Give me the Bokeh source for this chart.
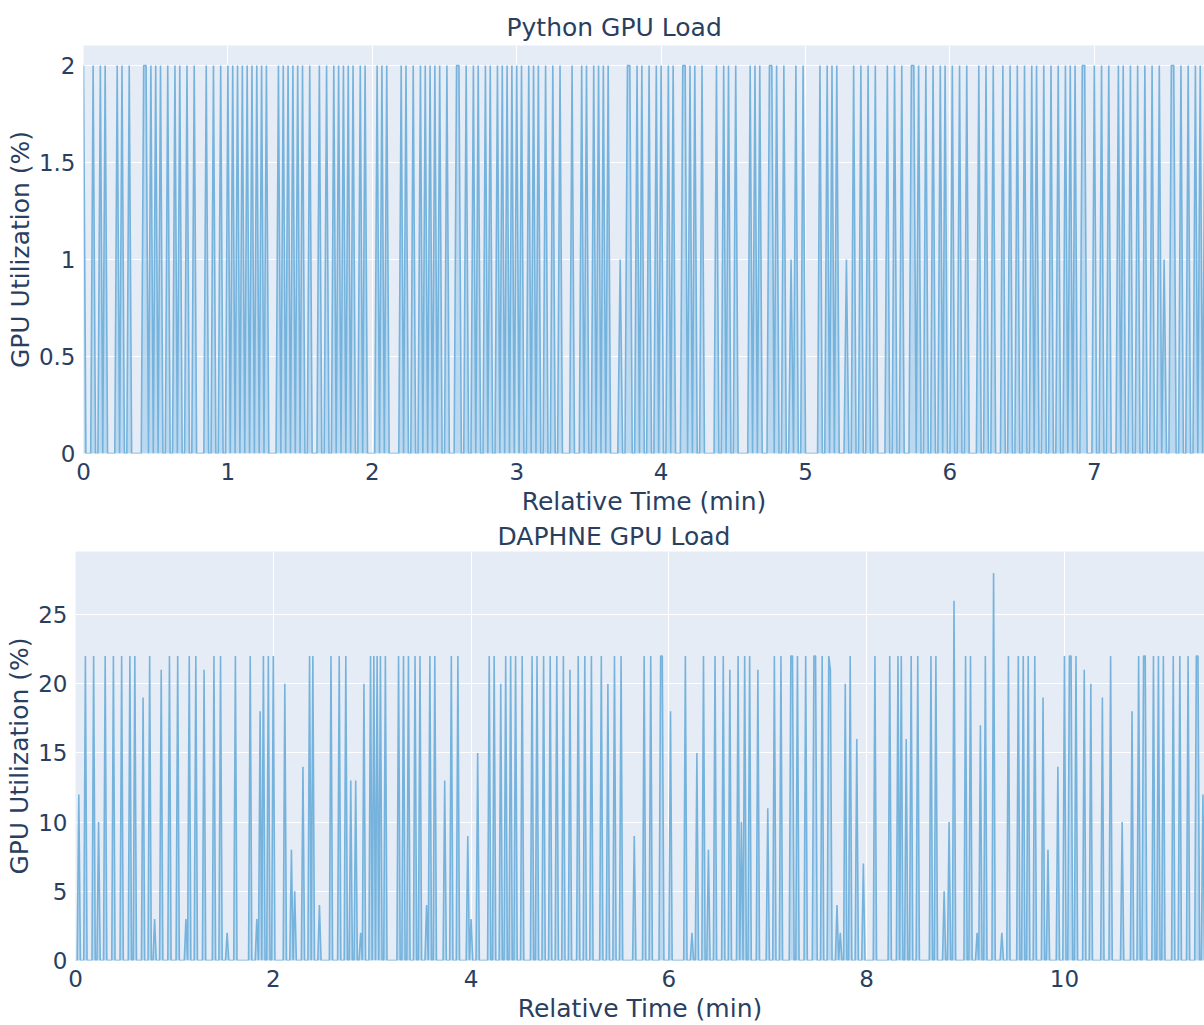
from bokeh.plotting import figure
from bokeh.layouts import column
from bokeh.models import Range1d, FixedTicker, CustomJSTickFormatter
from bokeh.embed import file_html
from bokeh.resources import INLINE

# ---------------- data ----------------
# Python GPU load: sampled once per second; listed seconds are the non-zero samples
python_title = "Python GPU Load"
python_duration_sec = 467
python_spike_sec = [0, 4, 7, 9, 14, 16, 19, 25, 26, 28, 30, 32, 35, 38, 40, 43, 46, 51, 54, 57,
                    60, 62, 64, 66, 68, 70, 72, 74, 76, 81, 83, 85, 87, 89, 91, 94, 98, 101, 104, 106,
                    108, 110, 112, 115, 117, 122, 124, 126, 132, 134, 137, 140, 142, 144, 146, 148, 151, 155, 156, 159,
                    162, 164, 167, 169, 172, 174, 176, 178, 180, 182, 185, 187, 189, 192, 195, 198, 203, 207, 209, 212,
                    214, 216, 218, 223, 226, 227, 230, 232, 235, 238, 240, 243, 245, 249, 250, 252, 254, 257, 263, 266,
                    268, 271, 277, 279, 281, 285, 286, 288, 291, 294, 296, 299, 306, 309, 311, 313, 317, 320, 323, 326,
                    329, 334, 337, 340, 344, 345, 347, 350, 353, 356, 358, 361, 364, 367, 372, 375, 378, 382, 385, 388,
                    391, 394, 396, 399, 402, 405, 408, 410, 412, 415, 416, 420, 423, 426, 430, 432, 435, 438, 441, 444,
                    447, 449, 452, 453, 456, 459, 462, 464, 466]
python_spike_val = [2, 2, 2, 2, 2, 2, 2, 2, 2, 2, 2, 2, 2, 2, 2, 2, 2, 2, 2, 2,
                    2, 2, 2, 2, 2, 2, 2, 2, 2, 2, 2, 2, 2, 2, 2, 2, 2, 2, 2, 2,
                    2, 2, 2, 2, 2, 2, 2, 2, 2, 2, 2, 2, 2, 2, 2, 2, 2, 2, 2, 2,
                    2, 2, 2, 2, 2, 2, 2, 2, 2, 2, 2, 2, 2, 2, 2, 2, 2, 2, 2, 2,
                    2, 2, 2, 1, 2, 2, 2, 2, 2, 2, 2, 2, 2, 2, 2, 2, 2, 2, 2, 2,
                    2, 2, 2, 2, 2, 2, 2, 2, 2, 1, 2, 2, 2, 2, 2, 2, 1, 2, 2, 2,
                    2, 2, 2, 2, 2, 2, 2, 2, 2, 2, 2, 2, 2, 2, 2, 2, 2, 2, 2, 2,
                    2, 2, 2, 2, 2, 2, 2, 2, 2, 2, 2, 2, 2, 2, 2, 2, 2, 2, 2, 2,
                    2, 1, 2, 2, 2, 2, 2, 2, 2]
python_yticks = [0, 0.5, 1, 1.5, 2]
python_xticks = [0, 1, 2, 3, 4, 5, 6, 7]

# DAPHNE GPU load: sampled once per second; listed seconds are the non-zero samples
daphne_title = "DAPHNE GPU Load"
daphne_duration_sec = 686
daphne_spike_sec = [2, 6, 11, 14, 18, 23, 28, 33, 36, 41, 45, 48, 52, 57, 62, 67, 69, 73, 78, 84,
                    88, 92, 97, 106, 110, 112, 114, 117, 120, 127, 131, 133, 138, 142, 144, 148, 155, 160, 164, 167,
                    170, 173, 175, 179, 181, 183, 185, 188, 196, 199, 202, 206, 209, 213, 215, 218, 224, 228, 232, 238,
                    240, 244, 251, 254, 258, 261, 264, 267, 271, 277, 280, 284, 288, 292, 296, 300, 305, 309, 313, 319,
                    323, 327, 331, 339, 345, 349, 355, 356, 361, 370, 374, 377, 381, 384, 388, 393, 397, 402, 404, 406,
                    409, 414, 420, 424, 428, 434, 435, 438, 443, 448, 449, 453, 457, 458, 462, 464, 467, 470, 474, 478,
                    485, 494, 499, 501, 504, 507, 511, 519, 522, 527, 530, 533, 540, 543, 547, 549, 552, 557, 562, 566,
                    572, 575, 578, 582, 587, 590, 596, 600, 603, 604, 607, 612, 616, 623, 628, 635, 641, 645, 648, 649,
                    654, 657, 660, 666, 670, 675, 680, 681, 684]
daphne_spike_val = [12, 22, 22, 10, 22, 22, 22, 22, 22, 19, 22, 3, 21, 22, 22, 3, 22, 22, 21, 22,
                    22, 2, 22, 22, 3, 18, 22, 22, 22, 20, 8, 5, 14, 22, 22, 4, 22, 22, 22, 13,
                    13, 2, 20, 22, 22, 22, 22, 22, 22, 22, 22, 22, 22, 4, 22, 22, 13, 22, 22, 9,
                    3, 15, 22, 22, 20, 22, 22, 22, 22, 22, 22, 22, 22, 22, 22, 21, 22, 22, 22, 22,
                    20, 22, 22, 9, 22, 22, 22, 22, 18, 22, 2, 15, 22, 8, 22, 22, 21, 22, 10, 22,
                    22, 21, 11, 22, 22, 22, 22, 22, 22, 22, 22, 22, 22, 21, 4, 2, 20, 22, 16, 7,
                    22, 22, 22, 22, 16, 22, 22, 22, 22, 5, 10, 26, 22, 22, 2, 17, 22, 28, 2, 22,
                    22, 22, 22, 22, 19, 8, 14, 22, 22, 22, 22, 21, 20, 19, 22, 10, 18, 22, 22, 22,
                    22, 22, 22, 22, 22, 22, 22, 22, 12]
daphne_yticks = [0, 5, 10, 15, 20, 25]
daphne_xticks = [0, 2, 4, 6, 8, 10]

x_label = "Relative Time (min)"
y_label = "GPU Utilization (%)"

# ---------------- styling ----------------
FONT = "DejaVu Sans"
TXT = "#2a3f5f"
BG = "#e5ecf6"
LINE = "#76b3dc"
FILL = "#86c0e6"


def series(duration, secs, vals):
    y = [0] * duration
    for s, v in zip(secs, vals):
        y[s] = v
    x = [s / 60.0 for s in range(duration)]
    return x, y


def make_fig(title, x, y, xticks, yticks, height, left, top, bottom, xend, yend, title_offset, title_standoff):
    p = figure(width=1204, height=height, output_backend="svg", toolbar_location=None,
               x_range=Range1d(0, xend), y_range=Range1d(0, yend),
               min_border_left=left, min_border_right=0, min_border_top=top, min_border_bottom=bottom)
    p.frame_align = False
    p.title.text = title
    p.title.text_font = FONT
    p.title.text_font_size = "25px"
    p.title.text_font_style = "normal"
    p.title.text_color = TXT
    p.title.text_line_height = 1.0
    p.title.align = "left"
    p.title.offset = title_offset
    p.title.standoff = title_standoff
    p.background_fill_color = BG
    p.border_fill_color = "white"
    p.outline_line_color = None

    p.varea(x=x, y1=0, y2=y, fill_color=FILL, fill_alpha=0.45)
    p.line(x=x, y=y, line_color=LINE, line_width=1.6)

    p.xaxis.ticker = FixedTicker(ticks=xticks)
    p.yaxis.ticker = FixedTicker(ticks=yticks)
    fmt = "return tick.toString();"
    p.xaxis.formatter = CustomJSTickFormatter(code=fmt)
    p.yaxis.formatter = CustomJSTickFormatter(code=fmt)
    p.xaxis.axis_label = x_label
    p.yaxis.axis_label = y_label
    for ax in (p.xaxis, p.yaxis):
        ax.axis_line_color = None
        ax.major_tick_line_color = None
        ax.minor_tick_line_color = None
        ax.major_label_text_font = FONT
        ax.major_label_text_font_size = "23px"
        ax.major_label_text_color = TXT
        ax.axis_label_text_font = FONT
        ax.axis_label_text_font_size = "25px"
        ax.axis_label_text_font_style = "normal"
        ax.axis_label_text_color = TXT
    p.xaxis.major_label_standoff = 3
    p.xaxis.axis_label_standoff = 4
    p.yaxis.major_label_standoff = 2
    p.yaxis.axis_label_standoff = 1
    p.xgrid.grid_line_color = "white"
    p.ygrid.grid_line_color = "white"
    p.xgrid.grid_line_width = 1
    p.ygrid.grid_line_width = 1
    return p


px, py = series(python_duration_sec, python_spike_sec, python_spike_val)
dx, dy = series(daphne_duration_sec, daphne_spike_sec, daphne_spike_val)

p1 = make_fig(python_title, px, py, python_xticks, python_yticks,
              height=518, left=83, top=45, bottom=65, xend=7.763, yend=2.103,
              title_offset=423, title_standoff=7)
p2 = make_fig(daphne_title, dx, dy, daphne_xticks, daphne_yticks,
              height=507, left=75, top=33, bottom=65, xend=11.416, yend=29.55,
              title_offset=422, title_standoff=2)

layout = column(p1, p2, spacing=0)
open("out.html", "w").write(file_html(layout, INLINE))
